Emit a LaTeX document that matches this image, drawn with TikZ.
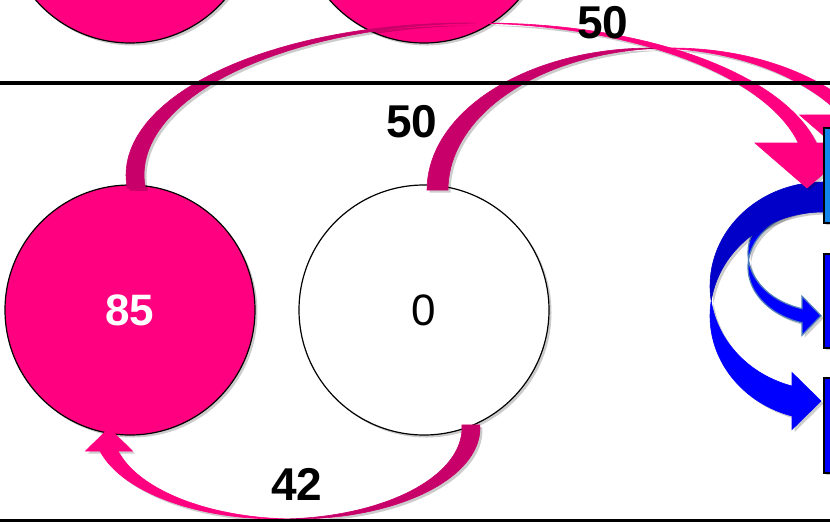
\documentclass[tikz,border=0pt]{standalone}
\usepackage{fontspec}
\setmainfont{Liberation Sans}
\usetikzlibrary{shadows}
\definecolor{cPink}{HTML}{FF0080}
\definecolor{cPinkBack}{HTML}{C8006A}
\definecolor{cBlue}{HTML}{0000FF}
\definecolor{cBlueBack}{HTML}{0000C8}
\definecolor{cSky}{HTML}{1185EC}
\definecolor{cSteel}{HTML}{4F7FB8}
\tikzset{
  every picture/.style={line width=0.5pt},
  shadowed/.style={drop shadow={shadow xshift=2.5pt, shadow yshift=-2.5pt, fill=black, opacity=0.2}},
  disc/.style={circle, draw=black, line width=1.2pt, minimum size=250pt, inner sep=0pt,
               shadowed, font=\fontsize{44}{48}\selectfont},
  pdisc/.style={disc, fill=cPink, text=white, font=\fontsize{44}{48}\selectfont\bfseries},
  wdisc/.style={disc, fill=white},
  band/.style={shadowed, line width=0.6pt},
  pfront/.style={band, fill=cPink, draw=cPink},
  pback/.style={band, fill=cPinkBack, draw=cPinkBack},
  bfront/.style={band, fill=cBlue, draw=cBlue},
  bback/.style={band, fill=cBlueBack, draw=cBlueBack},
  slot/.style={draw=black, line width=1.6pt, minimum width=80pt, inner sep=0pt,
               anchor=north west, shadowed},
  num/.style={font=\fontsize{46}{50}\selectfont\bfseries, inner sep=0pt},
}
\begin{document}
\begin{tikzpicture}[x=1pt, y=-1pt, samples=40]
\useasboundingbox (0,0) rectangle (830,523);
\clip (0,0) rectangle (830,523);

% ================================================== circles
\node[pdisc] (top1) at (130,-82) {};
\node[pdisc] (top2) at (424,-82) {};
\node[pdisc] (c85)  at (130,310) {85};
\node[wdisc] (c0)   at (424,310) {0};

% ================================================== blue arrows (left of the boxes)
% small one
\fill[bfront, draw=cSteel, line width=1.2pt]
      plot[domain=270:173.07] ({823+75*cos(\x)},{253+58*sin(\x)})
   -- plot[domain=186.93:270] ({823+75*cos(\x)},{267+58*sin(\x)}) -- cycle;
\fill[bfront, draw=cSteel, line width=1.2pt]
      plot[domain=186.93:106.26] ({823+75*cos(\x)},{267+58*sin(\x)})
   -- (802,335.2) -- (821,315.7) -- (802,296.2)
   -- plot[domain=106.26:173.07] ({823+75*cos(\x)},{253+58*sin(\x)}) -- cycle;
% big one
\fill[bback]
      plot[domain=270:171.71] ({823+113*cos(\x)},{286+104*sin(\x)})
   -- plot[domain=188.29:270] ({823+113*cos(\x)},{316+104*sin(\x)}) -- cycle;
\fill[bfront]
      plot[domain=188.29:105.9] ({823+113*cos(\x)},{316+104*sin(\x)})
   -- (792,429.5) -- (821,401) -- (792,372.5)
   -- plot[domain=105.9:171.71] ({823+113*cos(\x)},{286+104*sin(\x)}) -- cycle;

% ================================================== pink arrows
% 42: from 0 back to 85
\fill[pback]
      plot[domain=-2:92.8] ({296+184*cos(\x)},{428+91*sin(\x)})
   -- plot[domain=87.2:-2] ({278+184*cos(\x)},{428+91*sin(\x)}) -- cycle;
\fill[pfront]
      plot[domain=87.2:165.36] ({278+184*cos(\x)},{428+91*sin(\x)})
   -- (85.5,451) -- (109,428) -- (132.5,451)
   -- plot[domain=165.36:92.8] ({296+184*cos(\x)},{428+91*sin(\x)}) -- cycle;
% 50: from 0 to the top box
\fill[pback]
      plot[domain=180:272.69] ({651+224*cos(\x)},{190+142*sin(\x)})
   -- plot[domain=267.31:180] ({672+224*cos(\x)},{190+142*sin(\x)}) -- cycle;
\fill[pfront]
      plot[domain=267.31:328.1] ({672+224*cos(\x)},{190+142*sin(\x)})
   -- (903.7,115) -- (851.7,160) -- (799.7,115)
   -- plot[domain=328.1:272.69] ({651+224*cos(\x)},{190+142*sin(\x)}) -- cycle;
% 50: from 85 to the top box
\fill[pback]
      plot[domain=175:271.5] ({466+340*cos(\x)},{175+152*sin(\x)})
   -- plot[domain=268.5:175] ({484+340*cos(\x)},{175+152*sin(\x)}) -- cycle;
\fill[pfront]
      plot[domain=268.5:347.85] ({484+340*cos(\x)},{175+152*sin(\x)})
   -- (859,143) -- (807,188) -- (755,143)
   -- plot[domain=347.85:271.5] ({466+340*cos(\x)},{175+152*sin(\x)}) -- cycle;

% ================================================== boxes on the right
\node[slot, fill=cSky,  minimum height=95pt] (boxS) at (823,127) {};
\node[slot, fill=cBlue, minimum height=94pt] (boxM) at (823,253) {};
\node[slot, fill=cBlue, minimum height=95pt] (boxL) at (823,377) {};

% ================================================== rules
\draw[line width=4.5pt] (0,83) -- (830,83);
\draw[line width=3pt] (0,520.5) -- (830,520.5);

% ================================================== labels
\node[num] (w1) at (603,23)  {50};
\node[num] (w2) at (412,122) {50};
\node[num] (w3) at (297,484) {42};

\end{tikzpicture}
\end{document}
